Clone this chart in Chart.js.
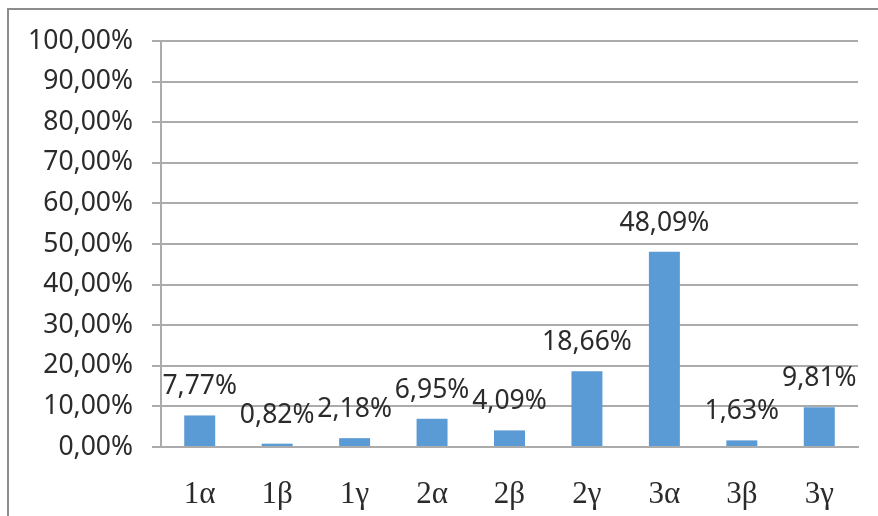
<!DOCTYPE html>
<html>
<head>
<meta charset="utf-8">
<script src="https://cdn.jsdelivr.net/npm/chart.js@4/dist/chart.umd.min.js"></script>
<style>
  html, body { margin: 0; padding: 0; background: #fff; overflow: hidden; }
  #frame { position: absolute; left: 7px; top: 8px; width: 920px; height: 600px; border: 2px solid #8c8c8c; }
  #chart { position: absolute; left: 0; top: 0; }
</style>
</head>
<body>
<div id="frame"></div>
<canvas id="chart" width="878" height="516"></canvas>
<script>
const categories = ['1α', '1β', '1γ', '2α', '2β', '2γ', '3α', '3β', '3γ'];
const shares = [7.77, 0.82, 2.18, 6.95, 4.09, 18.66, 48.09, 1.63, 9.81];
const yMin = 0, yMax = 100, yStep = 10;

const barColor = '#5b9bd5';
const gridColor = '#ababab';
const textColor = '#2b2b2b';
const sansFont = '"Noto Sans", sans-serif';

const pct = v => v.toFixed(2).replace('.', ',') + '%';

// value label over each bar
const valueLabels = {
    id: 'valueLabels',
    afterDatasetsDraw(chart) {
        const ctx = chart.ctx;
        const meta = chart.getDatasetMeta(0);
        ctx.save();
        ctx.font = '26.5px ' + sansFont;
        ctx.fillStyle = textColor;
        ctx.textAlign = 'center';
        ctx.textBaseline = 'alphabetic';
        meta.data.forEach((bar, i) => {
            ctx.fillText(pct(shares[i]), bar.x, bar.y - 21);
        });
        ctx.restore();
    }
};

const ctx = document.getElementById('chart').getContext('2d');
const chart = new Chart(ctx, {
    type: 'bar',
    data: {
        labels: categories,
        datasets: [{
            data: shares,
            backgroundColor: barColor,
            borderWidth: 0,
            categoryPercentage: 1,
            barPercentage: 0.4
        }]
    },
    options: {
        responsive: false,
        animation: false,
        devicePixelRatio: 1,
        layout: { padding: { top: 41, right: 20, left: 0, bottom: 0 } },
        plugins: {
            legend: { display: false },
            tooltip: { enabled: false }
        },
        scales: {
            x: {
                grid: { display: false },
                border: { display: true, color: gridColor, width: 2 },
                ticks: {
                    color: textColor,
                    font: { family: '"Liberation Serif", serif', size: 31 },
                    padding: 21,
                    maxRotation: 0
                },
                afterFit: s => { s.height = 69; }
            },
            y: {
                min: yMin,
                max: yMax,
                grid: { color: gridColor, lineWidth: 2, tickLength: 9 },
                border: { color: gridColor, width: 2 },
                ticks: {
                    stepSize: yStep,
                    color: textColor,
                    font: { family: sansFont, size: 26.5 },
                    padding: 19,
                    callback: v => pct(v)
                },
                afterFit: s => { s.width = 161; }
            }
        }
    },
    plugins: [valueLabels]
});
</script>
</body>
</html>
